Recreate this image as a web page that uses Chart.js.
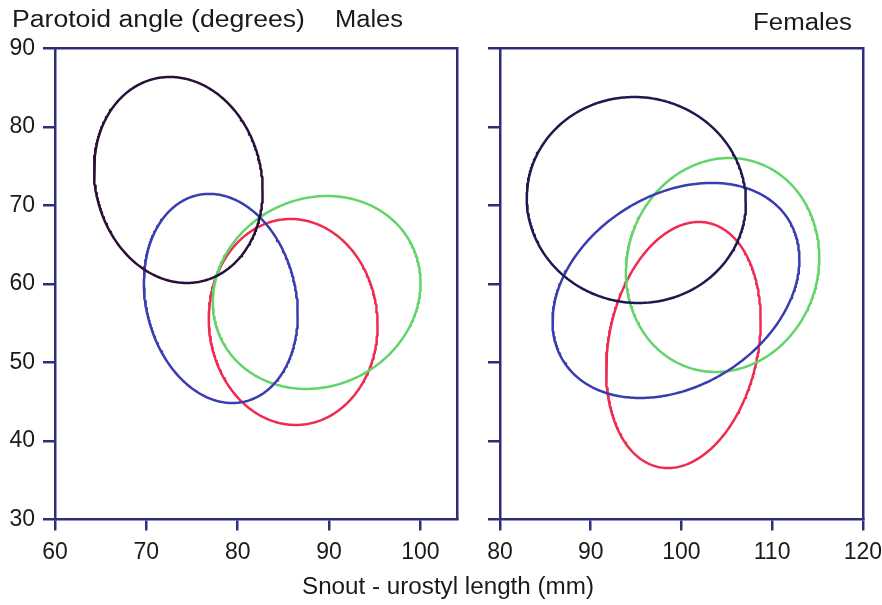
<!DOCTYPE html>
<html>
<head>
<meta charset="utf-8">
<script src="https://cdn.jsdelivr.net/npm/chart.js@4.4.1/dist/chart.umd.min.js"></script>
<style>
  body { margin: 0; background: #fff; overflow: hidden; }
  #wrap { position: relative; width: 882px; height: 605px; font-family: 'Liberation Sans', Arial, sans-serif; color: #1a1a1a; }
  canvas { position: absolute; top: 0; }
  .txt { position: absolute; font-size: 23px; line-height: 23px; white-space: nowrap; transform-origin: 0 0; }
</style>
</head>
<body>
<div id="wrap">
  <canvas id="males" width="470" height="605" style="left:0"></canvas>
  <canvas id="females" width="420" height="605" style="left:470px"></canvas>
  <div class="txt" data-w="293" style="left:12px;top:8px">Parotoid angle (degrees)</div>
  <div class="txt" data-w="68" style="left:335px;top:8px">Males</div>
  <div class="txt" data-w="99" style="left:753px;top:11px">Females</div>
  <div class="txt" data-w="292" style="left:302px;top:575px">Snout - urostyl length (mm)</div>
</div>
<script>
// ellipse outlines (data units)
// x(t) = cx + rx*cos t ; y(t) = cy + ry*cos(t - acos(tilt))
var groups = ['Group 1', 'Group 2', 'Group 3', 'Group 4'];

var maleCx = [73.5, 78.15, 88.64, 86.07];
var maleCy = [73.25, 58.16, 58.92, 55.16];
var maleRx = [9.23, 8.42, 11.37, 9.24];
var maleRy = [13.12, 13.32, 12.29, 13.12];
var maleTilt = [-0.1, -0.15, 0.1, -0.03];

var femaleCx = [95.03, 99.40, 104.54, 100.22];
var femaleCy = [70.70, 59.18, 62.42, 52.23];
var femaleRx = [12.08, 13.61, 10.66, 8.52];
var femaleRy = [13.12, 13.70, 13.63, 15.67];
var femaleTilt = [-0.02, 0.29, 0.07, 0.2];

var maleXTicks = [60, 70, 80, 90, 100];
var femaleXTicks = [80, 90, 100, 110, 120];
var yTicks = [30, 40, 50, 60, 70, 80, 90];

var maleColors = ['#2a1038', '#3a3db0', '#62d46a', '#ee2c50'];
var femaleColors = ['#1d1a52', '#3a3db0', '#62d46a', '#ee2c50'];
var frameColor = '#2f2c7c';

function outline(cx, cy, rx, ry, tilt) {
  var phi = Math.acos(tilt);
  var pts = [];
  for (var i = 0; i <= 360; i++) {
    var t = i / 360 * 2 * Math.PI;
    pts.push({ x: cx + rx * Math.cos(t), y: cy + ry * Math.cos(t - phi) });
  }
  return pts;
}

function makePanel(id, cx, cy, rx, ry, tilt, colors, xMin, xMax, xTicks, yLabels, yWidth, padRight) {
  var datasets = [];
  for (var i = 0; i < groups.length; i++) {
    datasets.push({
      label: groups[i],
      data: outline(cx[i], cy[i], rx[i], ry[i], tilt[i]),
      showLine: true,
      borderColor: colors[i],
      borderWidth: 2.5,
      borderJoinStyle: 'round',
      pointRadius: 0,
      fill: false
    });
  }
  var tickFont = { family: "'Liberation Sans', Arial, sans-serif", size: 23 };
  return new Chart(document.getElementById(id), {
    type: 'scatter',
    data: { datasets: datasets },
    options: {
      responsive: false,
      animation: false,
      devicePixelRatio: 1,
      layout: { padding: { top: 48.5, right: padRight, bottom: 0, left: 0 } },
      plugins: { legend: { display: false }, tooltip: { enabled: false } },
      scales: {
        x: {
          type: 'linear', min: xMin, max: xMax,
          afterBuildTicks: function (s) { s.ticks = xTicks.map(function (v) { return { value: v }; }); },
          afterFit: function (s) { s.height = 85.5; },
          grid: { drawOnChartArea: false, drawTicks: true, tickLength: 11, color: frameColor, lineWidth: 2.5 },
          border: { color: frameColor, width: 2.5 },
          ticks: { color: '#1a1a1a', font: tickFont, padding: 8, maxRotation: 0 }
        },
        y: {
          type: 'linear', min: 30, max: 90,
          afterBuildTicks: function (s) { s.ticks = yTicks.map(function (v) { return { value: v }; }); },
          afterFit: function (s) { s.width = yWidth; },
          grid: { drawOnChartArea: false, drawTicks: true, tickLength: 12, color: frameColor, lineWidth: 2.5 },
          border: { color: frameColor, width: 2.5 },
          ticks: { display: yLabels, color: '#1a1a1a', font: tickFont, padding: 8 }
        },
        xTop: {
          type: 'linear', axis: 'x', position: 'top', min: xMin, max: xMax,
          afterFit: function (s) { s.height = 0; },
          grid: { display: false },
          border: { color: frameColor, width: 2.5 },
          ticks: { display: false }
        },
        yRight: {
          type: 'linear', axis: 'y', position: 'right', min: 30, max: 90,
          afterFit: function (s) { s.width = 0; },
          grid: { display: false },
          border: { color: frameColor, width: 2.5 },
          ticks: { display: false }
        }
      }
    }
  });
}

makePanel('males', maleCx, maleCy, maleRx, maleRy, maleTilt, maleColors, 60, 104, maleXTicks, true, 55, 13);
makePanel('females', femaleCx, femaleCy, femaleRx, femaleRy, femaleTilt, femaleColors, 80, 120, femaleXTicks, false, 30, 24);

// stretch the captions to the widths measured on the figure
document.querySelectorAll('.txt').forEach(function (el) {
  var w = el.getBoundingClientRect().width;
  el.style.transform = 'scaleX(' + (parseFloat(el.dataset.w) / w) + ')';
});
</script>
</body>
</html>
